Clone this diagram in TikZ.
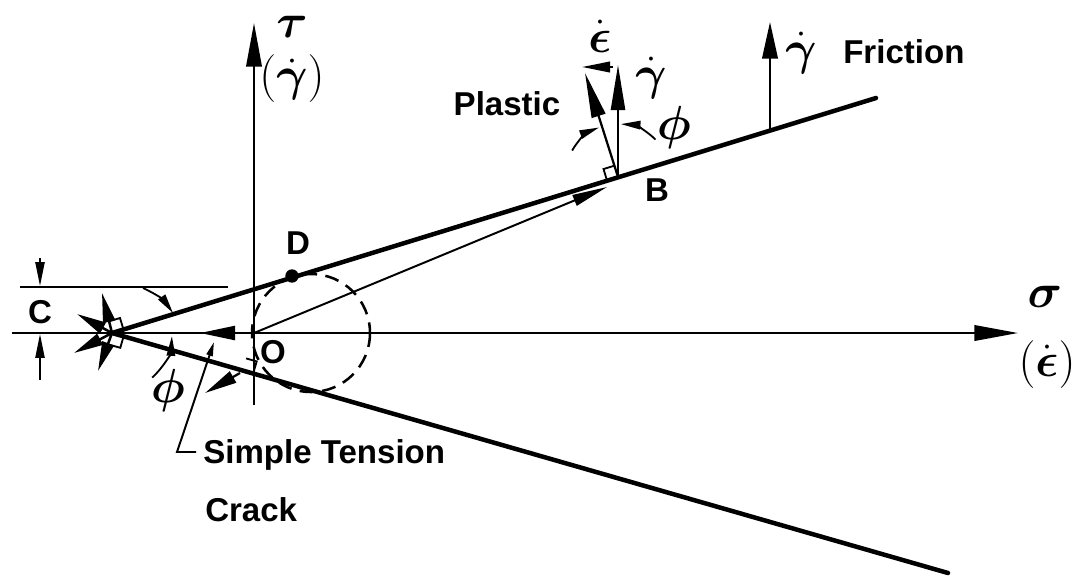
\RequirePackage{fix-cm}
\documentclass[tikz,border=0pt]{standalone}
\usepackage{amsmath}
\usepackage{fontspec}
\setmainfont{Liberation Sans}
\usetikzlibrary{arrows.meta,calc}

\begin{document}
\begin{tikzpicture}[x=0.025cm, y=-0.025cm,
    envelope/.style={line width=3.2pt, line cap=round},
    axisline/.style={line width=1.5pt, -{Triangle[length=31pt,width=11pt]}},
    strainvec/.style={line width=1.6pt, -{Triangle[length=32pt,width=10pt]}},
    smallvec/.style={line width=1.8pt, -{Triangle[length=21pt,width=8.5pt]}},
    thinline/.style={line width=1.4pt},
    dimarrow/.style={line width=1.3pt, -{Triangle[length=17pt,width=6.5pt]}},
    anglearc/.style={line width=1.3pt, -{Triangle[length=14pt,width=6pt]}},
    rightangle/.style={line width=1.3pt},
    mohr/.style={line width=1.8pt, dash pattern=on 10pt off 6pt},
    lbl/.style={font=\fontsize{23.5}{27}\selectfont\bfseries, inner sep=0pt},
    sym/.style={font=\fontsize{34}{36}\selectfont, inner sep=0pt}
]
\useasboundingbox (0,0) rectangle (1082,575);

% main points
\coordinate (A) at (112,333);
\coordinate (O) at (254,333);
\coordinate (B) at (618,177);
\coordinate (U) at (876,98);
\coordinate (L) at (948,573);

% axes
\coordinate (sigL) at (12,333);
\coordinate (sigR) at (1018,333);
\coordinate (tauB) at (254,405);
\coordinate (tauT) at (254,23);
\draw[axisline] (sigL) -- (sigR);
\draw[axisline] (tauB) -- (tauT);

% yield envelope
\draw[envelope] (A) -- (U);
\draw[envelope] (A) -- (L);

% cohesion C
\coordinate (cL) at (20,287);
\coordinate (cR) at (228,287);
\coordinate (cTopS) at (40,258);
\coordinate (cTopE) at (40,286);
\coordinate (cBotS) at (40,380);
\coordinate (cBotE) at (40,334);
\draw[thinline] (cL) -- (cR);
\draw[dimarrow] (cTopS) -- (cTopE);
\draw[dimarrow] (cBotS) -- (cBotE);
\node[lbl] (C) at (40,312) {C};

% Mohr circle for simple tension
\draw[mohr] (311,333) circle[radius=59];
\node[circle, fill, inner sep=0pt, minimum size=9.5pt] (Ddot) at (292,276) {};
\node[lbl] (Dlab) at (298,243) {D};
\node[lbl] (Olab) at (273,352) {O};

% vectors at the apex
\coordinate (apUp) at (102,293);
\coordinate (apDn) at (98,371);
\coordinate (apUL) at (77,314);
\coordinate (apDL) at (74,353);
\draw[smallvec] (A) -- (apUp);
\draw[smallvec] (A) -- (apDn);
\draw[smallvec] (A) -- (apUL);
\draw[smallvec] (A) -- (apDL);
\draw[rightangle] (123.5,329.5) -- (120.0,318.0) -- (108.5,321.5);
\draw[rightangle] (123.6,336.3) -- (120.3,347.8) -- (108.7,344.5);

% angle marks at the apex
\coordinate (arcS) at (143,288);
\coordinate (arcE) at (173,313);
\draw[anglearc] (arcS) to[bend left=15] (arcE);
\draw[anglearc] (A) ++(48:60) arc[start angle=48, end angle=3, radius=60];
\node[sym] (phiA) at (168,391) {$\boldsymbol{\phi}$};

% simple tension crack
\coordinate (tLeft) at (200,333);
\coordinate (cS) at (240,373);
\coordinate (cE) at (205,393);
\draw[strainvec, -{Triangle[length=25pt,width=10pt]}] (O) -- (tLeft);
\draw[strainvec, -{Triangle[length=23pt,width=9pt]}] (cS) -- (cE);
\draw[rightangle] (253.6,372.1) -- (256.7,361.4) -- (246.1,358.4);
\coordinate (leadA) at (196,452);
\coordinate (leadB) at (177,452);
\coordinate (leadC) at (214,342);
\draw[thinline, -{Triangle[length=10pt,width=4.5pt]}] (leadA) -- (leadB) -- (leadC);
\node[lbl, anchor=west] (tens) at (203,455) {Simple Tension};
\node[lbl, anchor=west] (crack) at (205,510) {Crack};

% strain rate at B
\coordinate (OB) at (607,187);
\draw[thinline, -{Triangle[length=25pt,width=8pt]}] (O) -- (OB);
\coordinate (Bup) at (618,65);
\coordinate (Bn) at (585,73);
\draw[strainvec] (B) -- (Bup);
\draw[strainvec] (B) -- (Bn);
\draw[rightangle] (607.0,180.5) -- (603.5,169.0) -- (615.0,165.5);
\draw[anglearc] (B) ++(-45:53) arc[start angle=-45, end angle=-87, radius=53];
\draw[anglearc] (B) ++(-150:53) arc[start angle=-150, end angle=-111, radius=53];
\coordinate (sS) at (613,67);
\coordinate (sE) at (582,67);
\draw[strainvec, -{Triangle[length=20pt,width=7.5pt]}] (sS) -- (sE);
\node[sym] (epsB) at (600,36) {$\dot{\boldsymbol{\epsilon}}$};
\node[sym] (gamB) at (651,78) {$\dot{\boldsymbol{\gamma}}$};
\node[sym] (phiB) at (674,128) {$\boldsymbol{\phi}$};
\node[lbl] (Blab) at (657,190) {B};
\node[lbl] (plastic) at (507,104) {Plastic};

% friction
\coordinate (fS) at (770,131);
\coordinate (fE) at (770,22);
\draw[strainvec, -{Triangle[length=26pt,width=11pt]}] (fS) -- (fE);
\node[sym] (gamF) at (801,53) {$\dot{\boldsymbol{\gamma}}$};
\node[lbl, anchor=west] (fric) at (843,52) {Friction};

% axis labels
\node[sym] (tau) at (292,27) {$\boldsymbol{\tau}$};
\node[sym] (tauR) at (292,79) {$(\dot{\boldsymbol{\gamma}})$};
\node[sym] (sig) at (1045,297) {$\boldsymbol{\sigma}$};
\node[sym] (sigR) at (1047,365) {$(\dot{\boldsymbol{\epsilon}})$};
\end{tikzpicture}
\end{document}
